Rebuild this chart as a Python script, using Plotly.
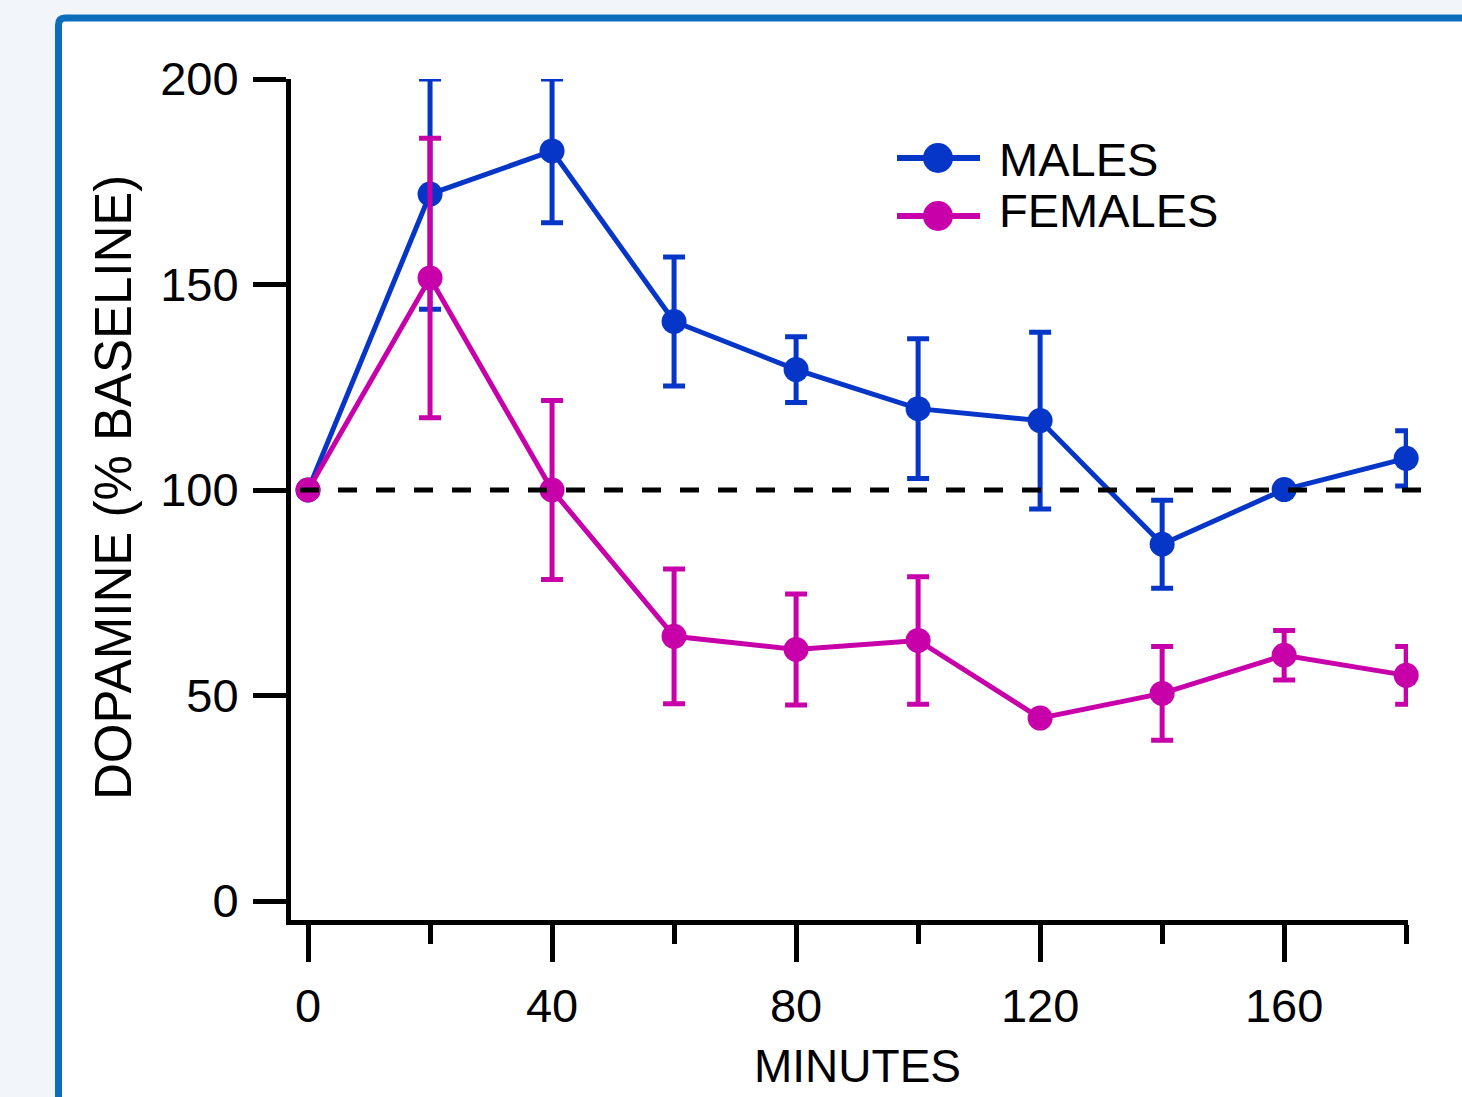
import plotly.graph_objects as go

# ---- data ----
minutes = [0, 20, 40, 60, 80, 100, 120, 140, 160, 180]
males = [100, 172, 182.5, 141, 129.3, 119.8, 116.9, 86.8, 100.1, 107.7]
males_err = [0, 28, 17.5, 15.7, 8, 17, 21.5, 10.7, 0, 6.7]
females = [100, 151.6, 100, 64.4, 61.2, 63.4, 44.5, 50.5, 59.8, 54.9]
females_err = [0, 34, 21.8, 16.4, 13.5, 15.5, 0, 11.4, 6, 7]
x_major = [0, 40, 80, 120, 160]
x_minor = [20, 60, 100, 140, 180]
y_ticks = [0, 50, 100, 150, 200]
baseline = 100
series_names = ["MALES", "FEMALES"]

BLUE = "#0636c8"
MAGENTA = "#c800aa"
FONT = "Liberation Sans, Arial, sans-serif"

W, H = 1462, 1097
L, R, T, B = 291, 1408, 79, 920   # plot area in pixels
XR = [-2.79, 180.3]
YR = [-4.62, 200]


def px(xp):
    return (xp - L) / (R - L)


def py(yp):
    return (B - yp) / (B - T)


fig = go.Figure()
for name, vals, errs, col in [("MALES", males, males_err, BLUE),
                              ("FEMALES", females, females_err, MAGENTA)]:
    fig.add_trace(go.Scatter(
        x=minutes, y=vals, name=name, mode="lines+markers",
        line=dict(color=col, width=5),
        marker=dict(color=col, size=25),
        error_y=dict(type="data", array=errs, visible=True,
                     color=col, thickness=5, width=11),
        cliponaxis=False, showlegend=False,
    ))

shapes = []
# outer frame with blue border
shapes.append(dict(
    type="path", xref="paper", yref="paper", layer="below",
    path=(f"M {px(58.5)},{py(1110)} L {px(58.5)},{py(25)} "
          f"Q {px(58.5)},{py(18)} {px(65)},{py(18)} L {px(1475)},{py(18)} "
          f"L {px(1475)},{py(1110)} Z"),
    line=dict(color="#0a6ebd", width=7), fillcolor="white",
))
# dashed baseline (y = 100)
yb = (baseline - YR[0]) / (YR[1] - YR[0])
shapes.append(dict(
    type="line", xref="paper", yref="paper", layer="above",
    x0=px(300), x1=px(1425), y0=yb, y1=yb,
    line=dict(color="black", width=5, dash="19px,19px"),
))
# manual legend
for i, (name, col) in enumerate(zip(series_names, [BLUE, MAGENTA])):
    yc = [158, 216][i]
    shapes.append(dict(type="line", xref="paper", yref="paper",
                       x0=px(897), x1=px(980), y0=py(yc), y1=py(yc),
                       line=dict(color=col, width=6)))
    shapes.append(dict(type="circle", xref="paper", yref="paper",
                       x0=px(923), x1=px(953), y0=py(yc - 15), y1=py(yc + 15),
                       line=dict(color=col, width=0), fillcolor=col))

annotations = []
for i, name in enumerate(series_names):
    annotations.append(dict(
        text=name, xref="paper", yref="paper", x=px(997), y=py([159, 210][i]),
        xanchor="left", yanchor="middle", showarrow=False,
        font=dict(family=FONT, size=47, color="black"),
    ))
annotations.append(dict(
    text="DOPAMINE (% BASELINE)", xref="paper", yref="paper",
    x=px(113), y=py(488), textangle=-90, xanchor="center", yanchor="middle",
    showarrow=False, font=dict(family=FONT, size=51, color="black"),
))
annotations.append(dict(
    text="MINUTES", xref="paper", yref="paper",
    x=px(857), y=py(1066), xanchor="center", yanchor="middle",
    showarrow=False, font=dict(family=FONT, size=46, color="black"),
))

fig.update_layout(
    width=W, height=H,
    margin=dict(l=L, r=W - R, t=T, b=H - B, pad=0),
    paper_bgcolor="#f2f6fb", plot_bgcolor="rgba(0,0,0,0)",
    shapes=shapes, annotations=annotations, showlegend=False,
    font=dict(family=FONT, size=47, color="black"),
)
fig.update_xaxes(
    range=XR, tickvals=x_major, ticktext=[str(v) for v in x_major],
    ticks="outside", ticklen=37, tickwidth=5, tickcolor="black",
    showline=True, linewidth=5, linecolor="black",
    showgrid=False, zeroline=False, ticklabelstandoff=4,
    tickfont=dict(family=FONT, size=47, color="black"),
    minor=dict(tickvals=x_minor, ticks="outside", ticklen=19,
               tickwidth=5, tickcolor="black", showgrid=False),
)
fig.update_yaxes(
    range=YR, tickvals=y_ticks, ticktext=[str(v) for v in y_ticks],
    ticks="outside", ticklen=33, tickwidth=5, tickcolor="black",
    showline=True, linewidth=5, linecolor="black",
    showgrid=False, zeroline=False, ticklabelstandoff=5,
    tickfont=dict(family=FONT, size=47, color="black"),
)

fig.write_html(
    "out.html",
    config={"displayModeBar": False},
    post_script="document.body.style.margin='0px';"
                "document.body.style.overflow='hidden';",
)
